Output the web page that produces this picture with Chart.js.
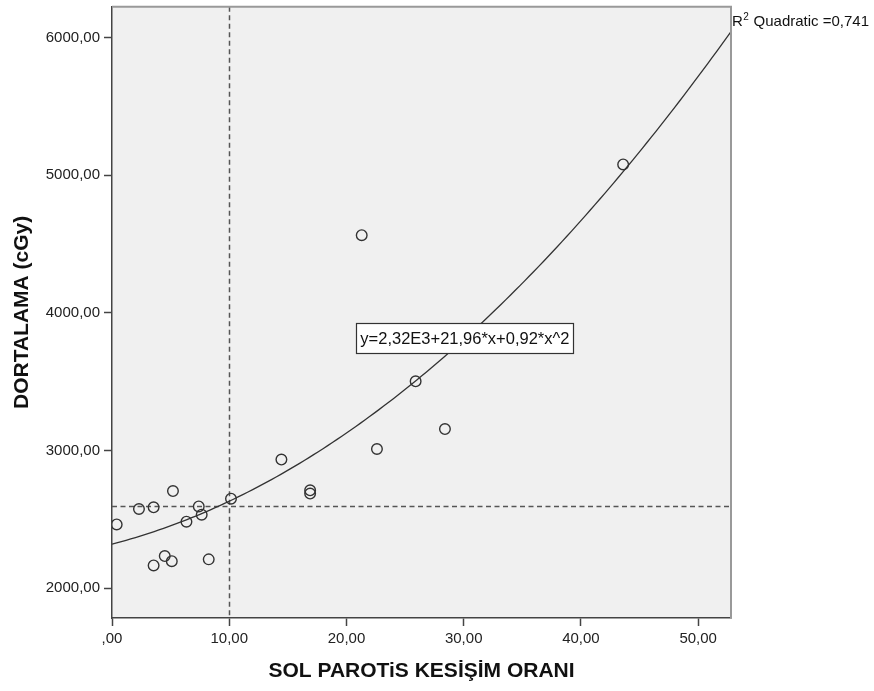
<!DOCTYPE html>
<html>
<head>
<meta charset="utf-8">
<script src="https://cdn.jsdelivr.net/npm/chart.js@4/dist/chart.umd.min.js"></script>
<style>
  html, body { margin: 0; padding: 0; background: #fff; }
  #wrap { width: 874px; height: 691px; }
</style>
</head>
<body>
<div id="wrap"><canvas id="scatter" width="874" height="691"></canvas></div>
<script>
// Observed values (x = SOL PAROTIS KESISIM ORANI, y = DORTALAMA cGy)
const xValues = [0.4, 2.3, 3.55, 5.2, 7.4, 7.65, 6.35, 10.15, 4.5, 3.55, 5.1, 8.25,
                 14.45, 16.9, 16.9, 22.6, 28.4, 25.9, 21.3, 43.6];
const yValues = [2463, 2575, 2587, 2705, 2594, 2534, 2483, 2650, 2233, 2165, 2196, 2209,
                 2934, 2711, 2687, 3011, 3156, 3503, 4565, 5079];

// Quadratic fit as printed on the chart: y = b0 + b1*x + b2*x^2
const fitCoef = [2320, 21.96, 0.92];
const fitLabel = 'y=2,32E3+21,96*x+0,92*x^2';
const rSquared = '0,741';

// Reference lines
const refX = [10];
const refY = [2600];

// Axis ticks
const xTicks = [0, 10, 20, 30, 40, 50];
const yTicks = [2000, 3000, 4000, 5000, 6000];
const xRange = [0, 52.8];
const yRange = [1783, 6225];

const fmt = v => v === 0 ? ',00' : v.toFixed(2).replace('.', ',');

// Sample the fitted curve across the x range
const curvePoints = [];
for (let x = xRange[0]; x <= xRange[1] + 0.001; x += 0.4) {
    curvePoints.push({ x: x, y: fitCoef[0] + fitCoef[1] * x + fitCoef[2] * x * x });
}

const scatterPoints = xValues.map((x, i) => ({ x: x, y: yValues[i] }));

// Plot background, reference lines, frame, equation box and R2 label
const spssDecor = {
    id: 'spssDecor',
    beforeDraw(chart) {
        const { ctx, chartArea: a } = chart;
        ctx.save();
        ctx.fillStyle = '#f0f0f0';
        ctx.fillRect(a.left, a.top, a.right - a.left, a.bottom - a.top);
        ctx.restore();
    },
    beforeDatasetsDraw(chart) {
        const { ctx, chartArea: a, scales } = chart;
        ctx.save();
        ctx.strokeStyle = '#555';
        ctx.lineWidth = 1.5;
        ctx.setLineDash([5, 3.5]);
        refX.forEach(v => {
            const px = Math.round(scales.x.getPixelForValue(v)) + 0.5;
            ctx.beginPath();
            ctx.moveTo(px, a.top);
            ctx.lineTo(px, a.bottom);
            ctx.stroke();
        });
        refY.forEach(v => {
            const py = Math.round(scales.y.getPixelForValue(v)) + 0.5;
            ctx.beginPath();
            ctx.moveTo(a.left, py);
            ctx.lineTo(a.right, py);
            ctx.stroke();
        });
        ctx.restore();
    },
    afterDraw(chart) {
        const { ctx, chartArea: a, scales } = chart;
        ctx.save();
        // top and right frame
        ctx.strokeStyle = '#999';
        ctx.lineWidth = 2;
        ctx.beginPath();
        ctx.moveTo(a.left, a.top);
        ctx.lineTo(a.right, a.top);
        ctx.lineTo(a.right, a.bottom);
        ctx.stroke();

        // equation box
        ctx.font = '16.5px "Liberation Sans", Arial, sans-serif';
        const tw = ctx.measureText(fitLabel).width;
        const cx = scales.x.getPixelForValue(30.1);
        const cy = scales.y.getPixelForValue(3816);
        const bw = tw + 8, bh = 30;
        ctx.fillStyle = '#fff';
        ctx.fillRect(cx - bw / 2, cy - bh / 2, bw, bh);
        ctx.strokeStyle = '#333';
        ctx.lineWidth = 1.2;
        ctx.strokeRect(Math.round(cx - bw / 2) + 0.5, Math.round(cy - bh / 2) + 0.5, Math.round(bw), bh);
        ctx.fillStyle = '#111';
        ctx.textAlign = 'center';
        ctx.textBaseline = 'middle';
        ctx.fillText(fitLabel, cx, cy + 1);

        // R2 label
        ctx.textAlign = 'left';
        ctx.textBaseline = 'alphabetic';
        ctx.font = '15px "Liberation Sans", Arial, sans-serif';
        let x = a.right + 1;
        ctx.fillText('R', x, 26);
        x += ctx.measureText('R').width;
        ctx.font = '10px "Liberation Sans", Arial, sans-serif';
        ctx.fillText('2', x + 0.5, 20);
        x += ctx.measureText('2').width + 1;
        ctx.font = '15px "Liberation Sans", Arial, sans-serif';
        ctx.fillText(' Quadratic =' + rSquared, x, 26);
        ctx.restore();
    }
};

const tickFont = { family: '"Liberation Sans", Arial, sans-serif', size: 15 };
const titleFont = { family: '"Liberation Sans", Arial, sans-serif', size: 21, weight: 'bold' };

new Chart(document.getElementById('scatter').getContext('2d'), {
    type: 'scatter',
    data: {
        datasets: [
            {
                label: 'Fit',
                type: 'line',
                data: curvePoints,
                borderColor: '#333',
                borderWidth: 1.3,
                pointRadius: 0,
                tension: 0,
                fill: false
            },
            {
                label: 'Observed',
                data: scatterPoints,
                pointRadius: 5.3,
                pointBorderWidth: 1.4,
                borderColor: '#333',
                backgroundColor: 'rgba(0,0,0,0)'
            }
        ]
    },
    options: {
        responsive: false,
        animation: false,
        devicePixelRatio: 1,
        layout: { padding: { top: 5, right: 143, left: 0, bottom: 0 } },
        plugins: {
            legend: { display: false },
            tooltip: { enabled: false }
        },
        scales: {
            x: {
                type: 'linear',
                min: xRange[0],
                max: xRange[1],
                afterBuildTicks: s => { s.ticks = xTicks.map(v => ({ value: v })); },
                afterFit: s => { s.height = 73; s.paddingLeft = 0; s.paddingRight = 0; },
                grid: { drawOnChartArea: false, drawTicks: true, tickLength: 8, color: '#444', tickWidth: 1.5 },
                border: { display: true, color: '#444', width: 1.5 },
                ticks: { callback: v => fmt(v), font: tickFont, color: '#222', padding: 4, maxRotation: 0 },
                title: { display: true, text: 'SOL PAROTiS KESİŞİM ORANI', font: titleFont, color: '#111', padding: { top: 0, bottom: 7 } }
            },
            y: {
                type: 'linear',
                min: yRange[0],
                max: yRange[1],
                afterBuildTicks: s => { s.ticks = yTicks.map(v => ({ value: v })); },
                afterFit: s => { s.width = 112; s.paddingTop = 0; s.paddingBottom = 0; },
                grid: { drawOnChartArea: false, drawTicks: true, tickLength: 8, color: '#444', tickWidth: 1.5 },
                border: { display: true, color: '#444', width: 1.5 },
                ticks: { callback: v => fmt(v), font: tickFont, color: '#222', padding: 4 },
                title: { display: true, text: 'DORTALAMA (cGy)', font: titleFont, color: '#111', padding: { top: 10, bottom: 0 } }
            }
        }
    },
    plugins: [spssDecor]
});
</script>
</body>
</html>
